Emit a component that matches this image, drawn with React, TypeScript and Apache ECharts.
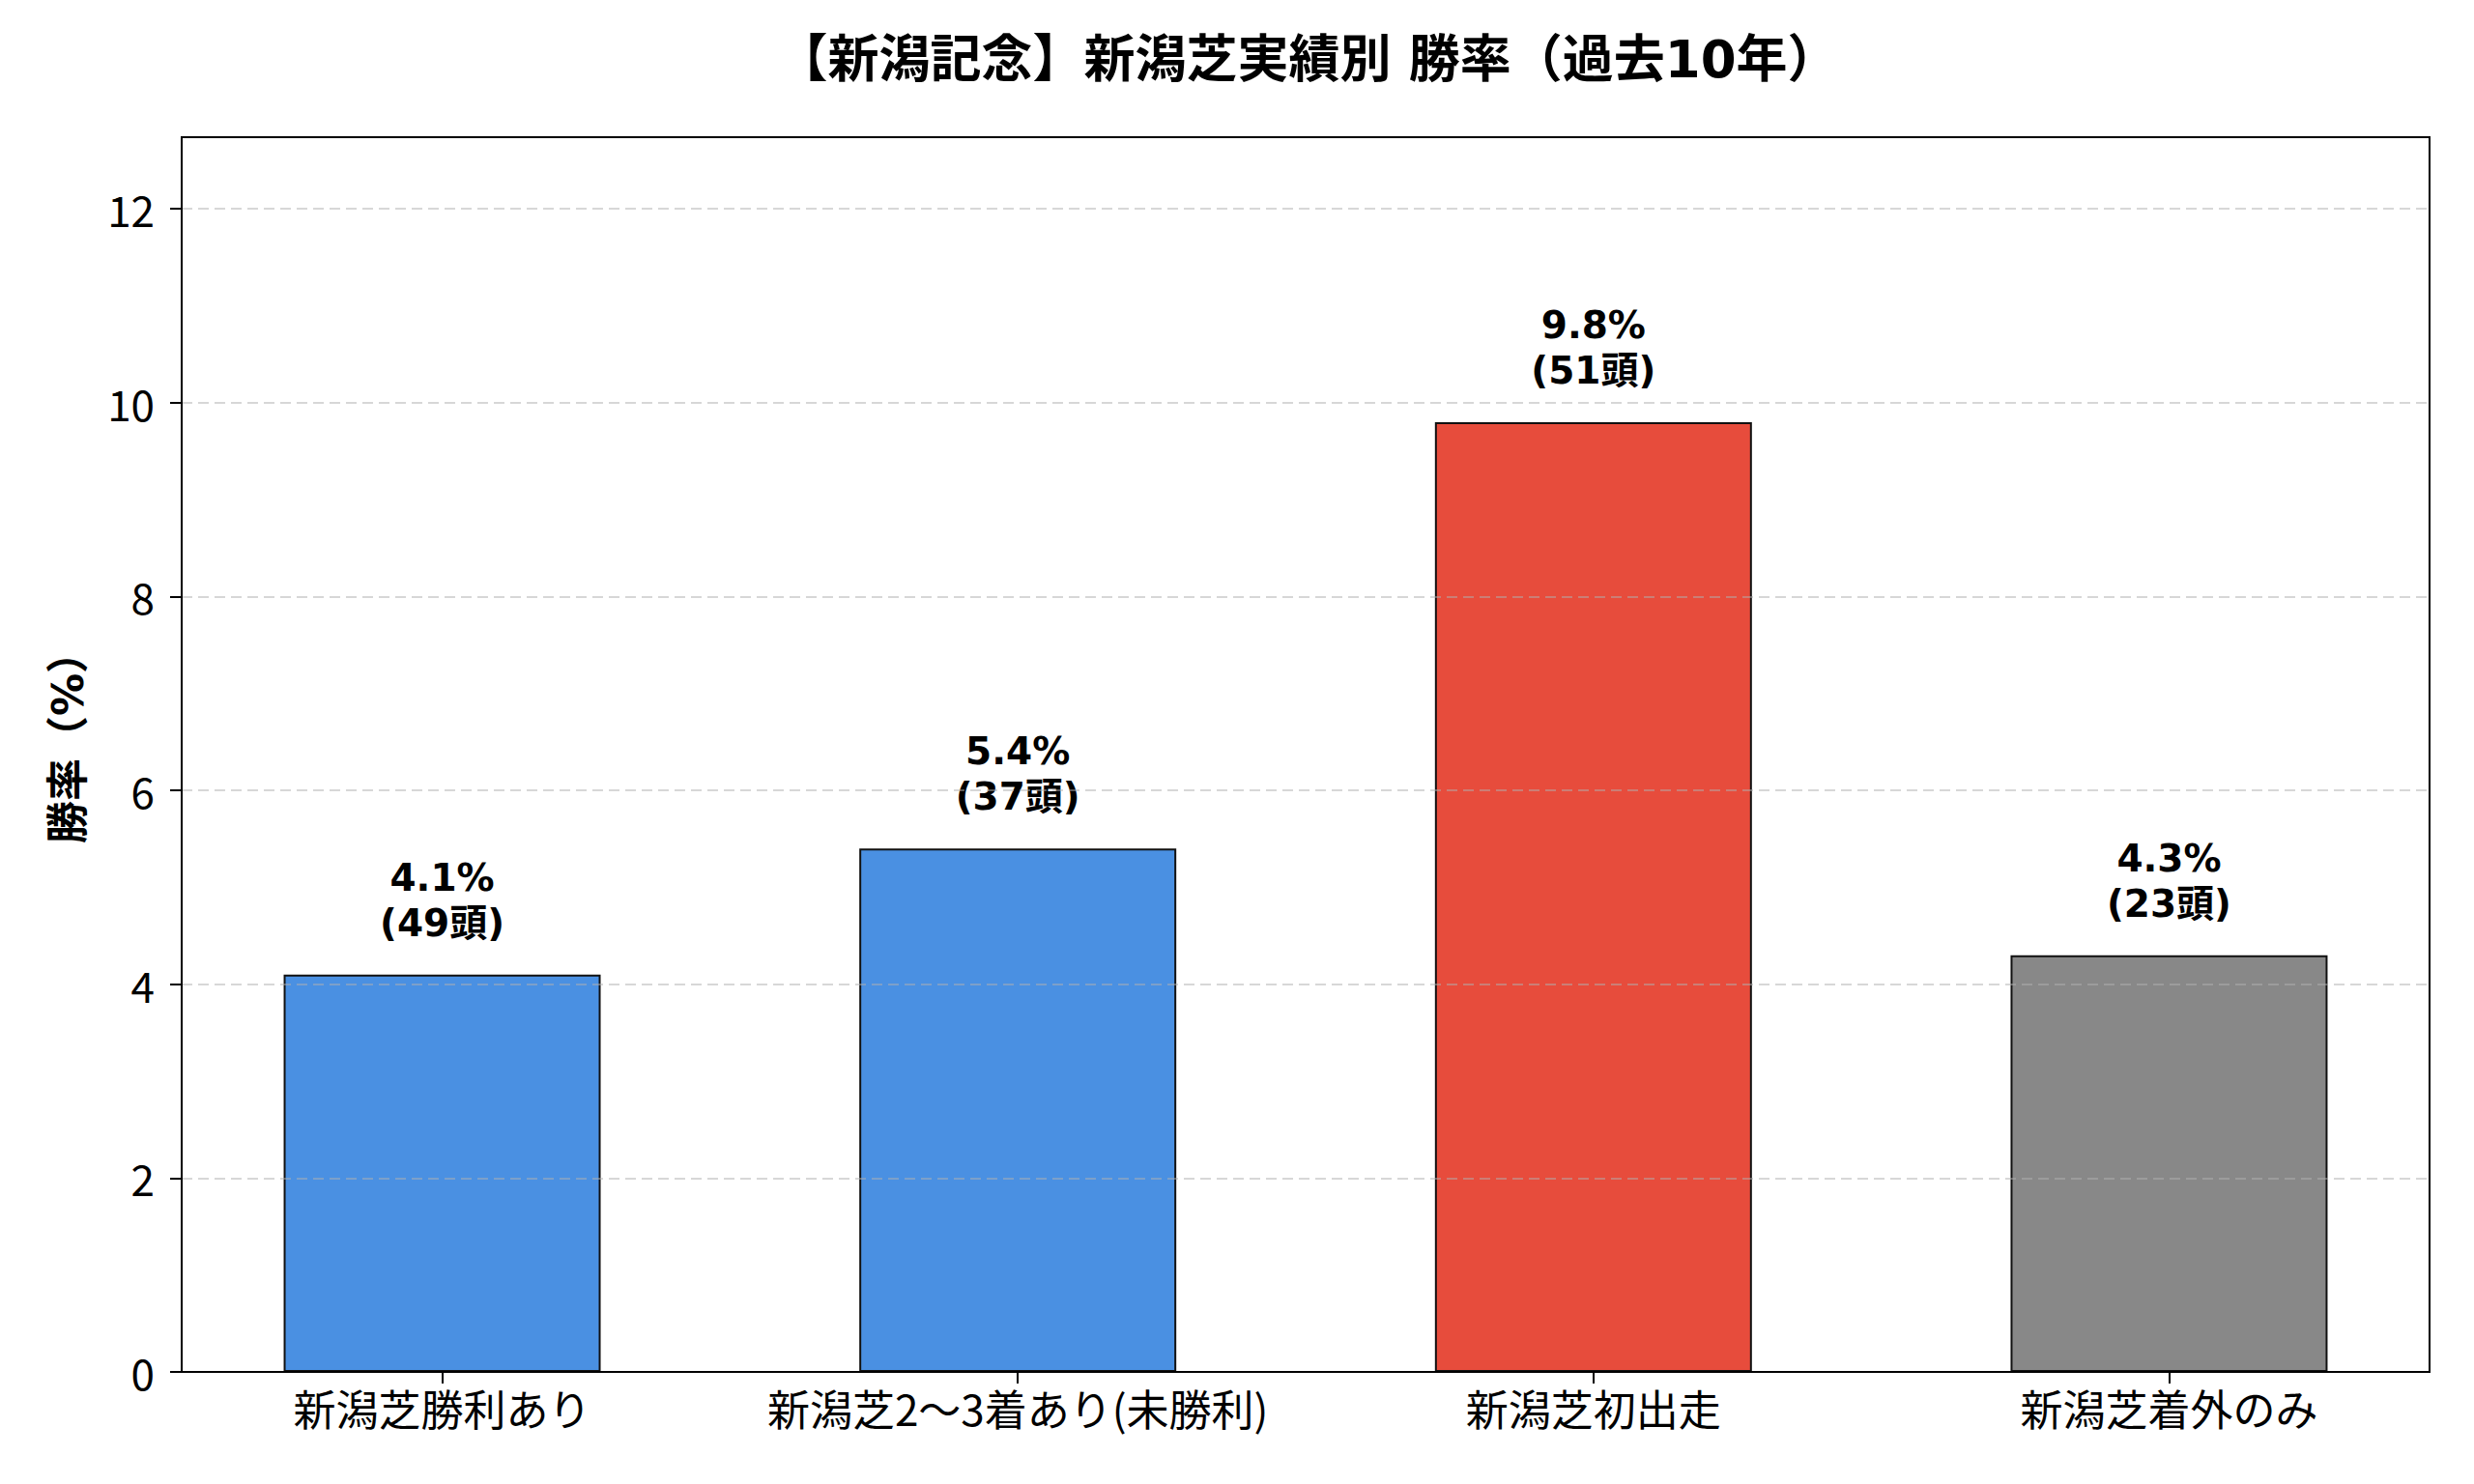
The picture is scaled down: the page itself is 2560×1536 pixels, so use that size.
import React, { useEffect, useRef } from 'react';
import * as echarts from 'echarts';

const categories = ['新潟芝勝利あり', '新潟芝2〜3着あり(未勝利)', '新潟芝初出走', '新潟芝着外のみ'];
const winRates = [4.1, 5.4, 9.8, 4.3];
const runnerCounts = [49, 37, 51, 23];
const barColors = ['#4A90E2', '#4A90E2', '#E74C3C', '#888888'];
const yTicks = [0, 2, 4, 6, 8, 10, 12];
const xTicks = [0, 1, 2, 3];

const FONT = "'Noto Sans CJK JP', 'Noto Sans', sans-serif";
const BOLD_FONT = "'DejaVu Sans', 'Noto Sans CJK JP', sans-serif";

const App: React.FC = () => {
  const ref = useRef<HTMLDivElement>(null);

  useEffect(() => {
    if (!ref.current) return;
    const chart = echarts.init(ref.current, null, { renderer: 'svg' });

    chart.setOption({
      animation: false,
      backgroundColor: '#ffffff',
      textStyle: { fontFamily: FONT },
      title: {
        text: '【新潟記念】新潟芝実績別 勝率（過去10年）',
        left: 1353,
        top: 35,
        padding: 0,
        textAlign: 'center',
        textStyle: { fontFamily: BOLD_FONT, fontSize: 53, fontWeight: 'bold', color: '#000' }
      },
      grid: {
        left: 188,
        right: 46,
        top: 142,
        bottom: 116,
        show: true,
        borderColor: '#000',
        borderWidth: 2,
        backgroundColor: 'transparent'
      },
      xAxis: {
        type: 'value',
        min: -0.4525,
        max: 3.4525,
        z: 5,
        axisLine: { show: true, onZero: false, lineStyle: { color: '#000', width: 2 } },
        axisTick: { show: true, length: 12, lineStyle: { color: '#000', width: 2 }, customValues: xTicks },
        axisLabel: {
          customValues: xTicks,
          margin: 15,
          fontSize: 44,
          color: '#000',
          fontFamily: FONT,
          formatter: (v: number) => categories[Math.round(v)] ?? ''
        },
        splitLine: { show: false }
      },
      yAxis: {
        type: 'value',
        min: 0,
        max: 12.74,
        z: 3,
        name: '勝率（%）',
        nameLocation: 'middle',
        nameRotate: 90,
        nameGap: 96,
        nameTextStyle: {
          fontFamily: BOLD_FONT,
          fontSize: 44,
          fontWeight: 'bold',
          color: '#000',
          padding: [0, 0, 0, 36]
        },
        axisLine: { show: true, onZero: false, lineStyle: { color: '#000', width: 2 } },
        axisTick: { show: true, length: 12, lineStyle: { color: '#000', width: 2 }, customValues: yTicks },
        axisLabel: { customValues: yTicks, margin: 28, fontSize: 44, color: '#000', fontFamily: FONT },
        splitLine: {
          show: true,
          lineStyle: { color: 'rgba(176,176,176,0.5)', width: 2, type: [11, 6] }
        }
      },
      series: [
        {
          type: 'bar',
          barWidth: 328,
          data: winRates.map((v, i) => ({
            value: [i, v],
            itemStyle: { color: barColors[i], borderColor: '#111', borderWidth: 2 }
          })),
          label: {
            show: true,
            position: 'top',
            distance: 30,
            fontFamily: BOLD_FONT,
            fontSize: 39,
            fontWeight: 'bold',
            lineHeight: 47,
            color: '#000',
            formatter: (p: any) => `${winRates[p.dataIndex].toFixed(1)}%\n(${runnerCounts[p.dataIndex]}頭)`
          }
        }
      ]
    });

    return () => {
      chart.dispose();
    };
  }, []);

  return (
    <div
      ref={ref}
      style={{ position: 'absolute', left: 0, top: 0, width: 2560, height: 1536 }}
    />
  );
};

export default App;
